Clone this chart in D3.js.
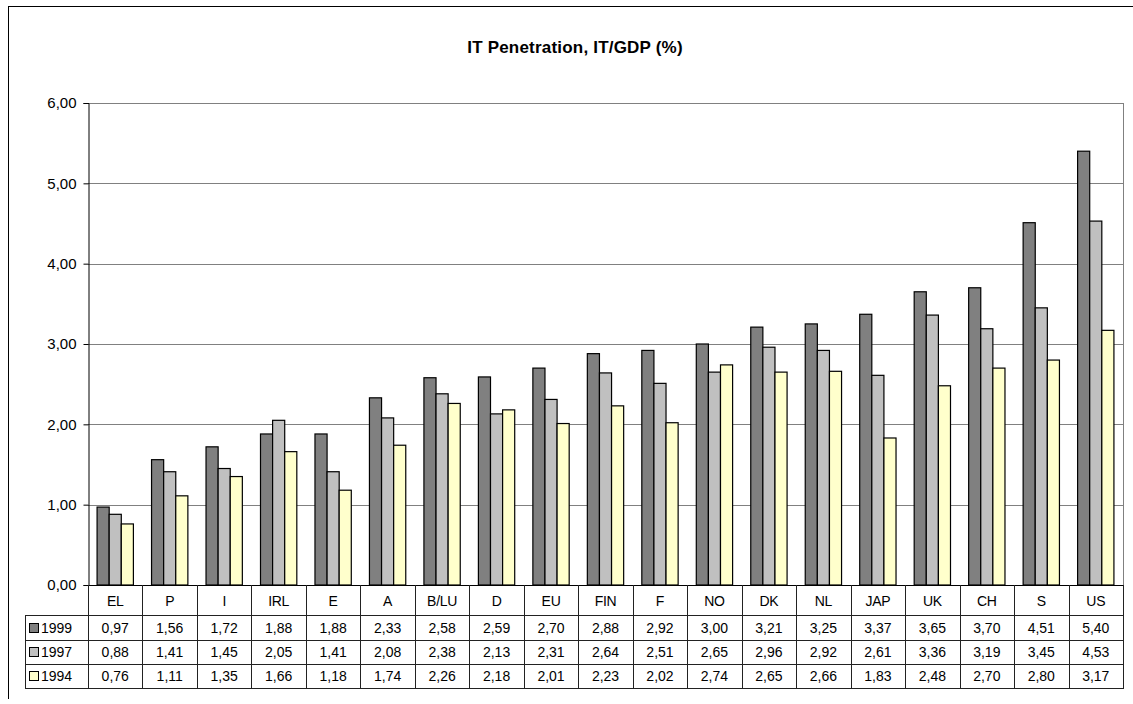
<!DOCTYPE html>
<html>
<head>
<meta charset="utf-8">
<script src="https://cdn.jsdelivr.net/npm/d3@7/dist/d3.min.js"></script>
<style>
  html, body { margin: 0; padding: 0; background: #fff; }
  svg { display: block; font-family: "Liberation Sans", Arial, sans-serif; }
</style>
</head>
<body>
<svg id="chart" width="1133" height="704"></svg>
<script>
// Countries / regions along the category axis
const categories = ["EL", "P", "I", "IRL", "E", "A", "B/LU", "D", "EU", "FIN", "F", "NO", "DK", "NL", "JAP", "UK", "CH", "S", "US"];
// Series names (years)
const seriesNames = ["1999", "1997", "1994"];
// IT/GDP (%) per year
const values1999 = [0.97, 1.56, 1.72, 1.88, 1.88, 2.33, 2.58, 2.59, 2.70, 2.88, 2.92, 3.00, 3.21, 3.25, 3.37, 3.65, 3.70, 4.51, 5.40];
const values1997 = [0.88, 1.41, 1.45, 2.05, 1.41, 2.08, 2.38, 2.13, 2.31, 2.64, 2.51, 2.65, 2.96, 2.92, 2.61, 3.36, 3.19, 3.45, 4.53];
const values1994 = [0.76, 1.11, 1.35, 1.66, 1.18, 1.74, 2.26, 2.18, 2.01, 2.23, 2.02, 2.74, 2.65, 2.66, 1.83, 2.48, 2.70, 2.80, 3.17];
// Value axis ticks
const yTicks = [0, 1, 2, 3, 4, 5, 6];

const seriesValues = [values1999, values1997, values1994];
const seriesColors = ["#808080", "#C0C0C0", "#FFFFCC"];

const svg = d3.select("#chart");
const plot = { left: 88, right: 1123, top: 103, bottom: 585 };

const fmt = v => d3.format(".2f")(v).replace(".", ",");

// Chart area frame (top and left edges)
svg.append("line").attr("x1", 8).attr("x2", 1133).attr("y1", 6.5).attr("y2", 6.5)
  .attr("stroke", "#000").attr("stroke-width", 1);
svg.append("line").attr("x1", 8.5).attr("x2", 8.5).attr("y1", 6).attr("y2", 699)
  .attr("stroke", "#000").attr("stroke-width", 1);

// Title
svg.append("text")
  .attr("x", 575).attr("y", 53)
  .attr("text-anchor", "middle")
  .attr("font-size", 17).attr("font-weight", "bold")
  .attr("letter-spacing", "0.2")
  .text("IT Penetration, IT/GDP (%)");

// Scales
const y = d3.scaleLinear().domain([0, 6]).range([plot.bottom, plot.top]);
const x0 = d3.scaleBand().domain(categories).range([plot.left, plot.right]).padding(0);
const x1 = d3.scaleBand().domain(seriesNames).range([0, x0.bandwidth()])
  .paddingInner(0).paddingOuter(0.75);

// Gridlines
svg.append("g").selectAll("line").data(yTicks.filter(t => t > 0)).join("line")
  .attr("x1", plot.left).attr("x2", plot.right)
  .attr("y1", d => Math.round(y(d)) + 0.5).attr("y2", d => Math.round(y(d)) + 0.5)
  .attr("stroke", "#808080").attr("stroke-width", 1);

// Right edge of plot area
svg.append("line")
  .attr("x1", plot.right + 0.5).attr("x2", plot.right + 0.5)
  .attr("y1", plot.top).attr("y2", plot.bottom)
  .attr("stroke", "#808080");

// Bars
const groups = svg.append("g").selectAll("g").data(categories).join("g")
  .attr("transform", d => `translate(${x0(d)},0)`);
groups.selectAll("rect")
  .data((c, i) => seriesNames.map((s, k) => ({ s, k, v: seriesValues[k][i] })))
  .join("rect")
  .attr("x", d => x1(d.s))
  .attr("y", d => y(d.v))
  .attr("width", x1.bandwidth())
  .attr("height", d => y(0) - y(d.v))
  .attr("fill", d => seriesColors[d.k])
  .attr("stroke", "#000").attr("stroke-width", 1.2);

// Value axis
const yAxis = d3.axisLeft(y).tickValues(yTicks).tickFormat(fmt).tickSize(5).tickPadding(7);
const yg = svg.append("g").attr("transform", `translate(${plot.left + 0.5},0)`).call(yAxis);
yg.select(".domain").attr("stroke", "#000");
yg.selectAll(".tick line").attr("stroke", "#000");
yg.selectAll(".tick text").attr("font-size", 15).attr("fill", "#000")
  .attr("font-family", "Liberation Sans, Arial, sans-serif");

// Category axis line
svg.append("line").attr("x1", plot.left).attr("x2", plot.right + 1)
  .attr("y1", plot.bottom + 0.5).attr("y2", plot.bottom + 0.5).attr("stroke", "#000");

// Data table
const rowLines = [615, 640, 664, 688];
const tableLeft = 25;
const table = svg.append("g");

// Horizontal rules
rowLines.forEach(ly => {
  table.append("line")
    .attr("x1", tableLeft).attr("x2", plot.right + 1)
    .attr("y1", ly + 0.5).attr("y2", ly + 0.5)
    .attr("stroke", "#222");
});
// Vertical rules between categories
const bounds = categories.map(c => x0(c)).concat([plot.right]);
table.selectAll("line.v").data(bounds).join("line").attr("class", "v")
  .attr("x1", d => Math.round(d) + 0.5).attr("x2", d => Math.round(d) + 0.5)
  .attr("y1", plot.bottom).attr("y2", rowLines[3])
  .attr("stroke", "#222");
// Legend column edge
table.append("line")
  .attr("x1", tableLeft + 0.5).attr("x2", tableLeft + 0.5)
  .attr("y1", rowLines[0]).attr("y2", rowLines[3])
  .attr("stroke", "#222");

// Category labels
table.selectAll("text.cat").data(categories).join("text").attr("class", "cat")
  .attr("x", d => x0(d) + x0.bandwidth() / 2)
  .attr("y", 606)
  .attr("text-anchor", "middle")
  .attr("font-size", 14)
  .attr("letter-spacing", "-0.3")
  .text(d => d);

// Rows with legend keys and values
seriesNames.forEach((s, k) => {
  const top = rowLines[k], bottom = rowLines[k + 1];
  const mid = (top + bottom) / 2;
  table.append("rect")
    .attr("x", 29.5).attr("y", Math.round(mid - 5) + 0.5)
    .attr("width", 9).attr("height", 9)
    .attr("fill", seriesColors[k]).attr("stroke", "#000");
  table.append("text")
    .attr("x", 41).attr("y", mid + 5)
    .attr("font-size", 14)
    .text(s);
  table.append("g").selectAll("text").data(categories).join("text")
    .attr("x", d => x0(d) + x0.bandwidth() / 2)
    .attr("y", mid + 5)
    .attr("text-anchor", "middle")
    .attr("font-size", 14)
    .text((d, i) => fmt(seriesValues[k][i]));
});
</script>
</body>
</html>
